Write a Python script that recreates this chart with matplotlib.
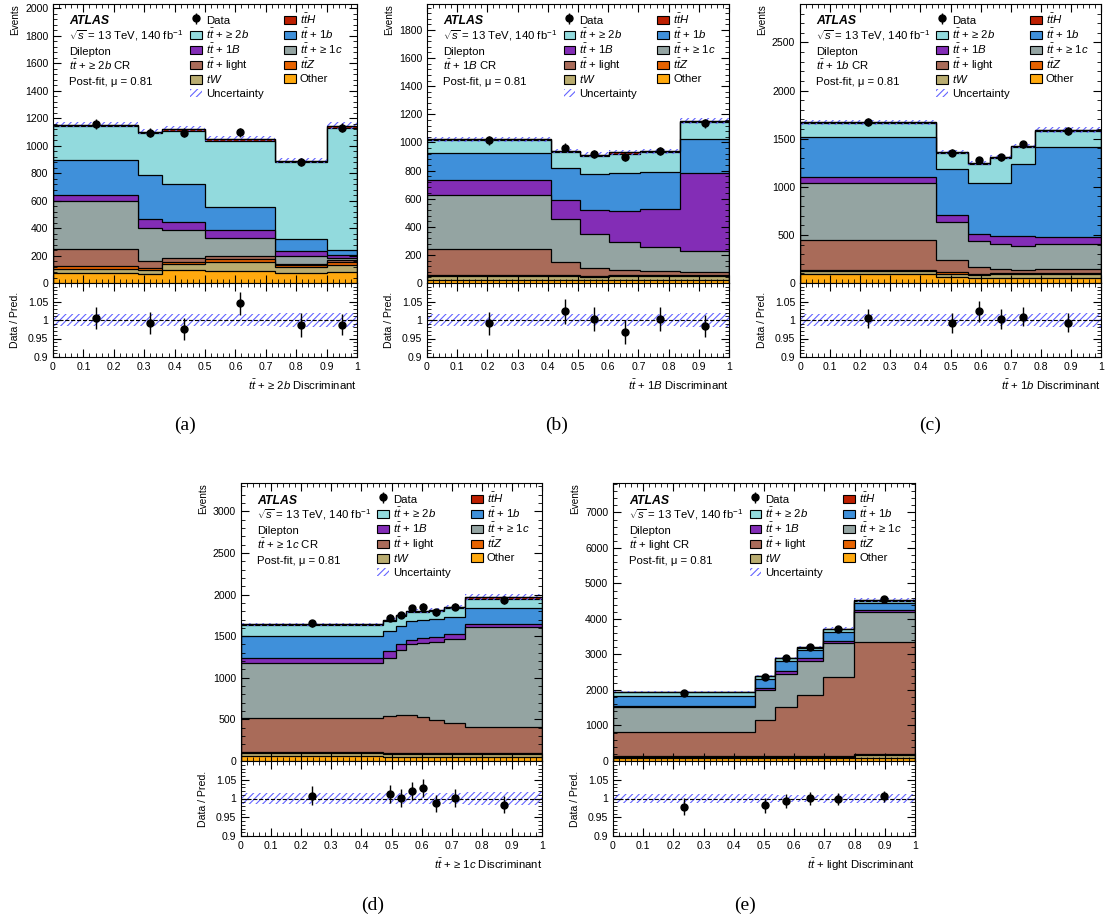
import numpy as np
import matplotlib
matplotlib.use('Agg')
import matplotlib.pyplot as plt
from matplotlib.ticker import MultipleLocator, AutoMinorLocator, FuncFormatter
from matplotlib.patches import Patch, Rectangle
from matplotlib.legend_handler import HandlerPatch

plt.rcParams['font.family'] = ['Liberation Sans', 'DejaVu Sans']
plt.rcParams['mathtext.fontset'] = 'custom'
plt.rcParams['mathtext.rm'] = 'Liberation Sans'
plt.rcParams['mathtext.it'] = 'Liberation Sans:italic'
plt.rcParams['mathtext.bf'] = 'Liberation Sans:bold'
plt.rcParams['hatch.linewidth'] = 0.8

# stack order, bottom -> top: other, tW, ttZ, light, >=1c, 1B, 1b, >=2b, ttH
# (a) tt + >=2b CR
a_edges = [0, 0.28, 0.36, 0.50, 0.73, 0.90, 1.0]
a_other = [73, 63, 92, 87, 73, 80]
a_tw = [31, 29, 44, 66, 43, 53]
a_ttz = [17, 17, 17, 21, 17, 17]
a_light = [128, 48, 31, 20, 7, 15]
a_c = [351, 243, 203, 135, 56, 17]
a_B = [42, 67, 58, 54, 36, 19]
a_b = [256, 322, 276, 169, 85, 36]
a_2b = [242, 301, 388, 484, 562, 893]
a_tth = [13, 12, 12, 15, 12, 15]
a_data = [1158, 1094, 1095, 1098, 879, 1131]
a_unc = [0.017, 0.017, 0.016, 0.015, 0.020, 0.020]

# (b) tt + 1B CR
b_edges = [0, 0.41, 0.505, 0.603, 0.706, 0.839, 1.0]
b_other = [24, 24, 24, 24, 24, 24]
b_tw = [23, 23, 19, 23, 23, 23]
b_ttz = [10, 10, 9, 10, 10, 10]
b_light = [188, 93, 57, 38, 28, 21]
b_c = [384, 308, 242, 197, 171, 150]
b_B = [107, 136, 167, 219, 274, 556]
b_b = [192, 221, 261, 273, 261, 244]
b_2b = [88, 118, 128, 137, 138, 119]
b_tth = [8, 7, 7, 8, 7, 7]
b_data = [1015, 962, 917, 898, 939, 1136]
b_unc = [0.017, 0.016, 0.016, 0.016, 0.017, 0.020]

# (c) tt + 1b CR
c_edges = [0, 0.451, 0.558, 0.632, 0.702, 0.782, 1.0]
c_other = [90, 62, 56, 56, 56, 56]
c_tw = [35, 35, 24, 34, 34, 34]
c_ttz = [14, 18, 17, 14, 14, 14]
c_light = [312, 128, 70, 45, 35, 45]
c_c = [584, 392, 270, 254, 246, 254]
c_B = [69, 77, 77, 90, 108, 76]
c_b = [410, 469, 521, 542, 743, 931]
c_2b = [146, 173, 201, 260, 181, 173]
c_tth = [10, 11, 11, 11, 10, 11]
c_data = [1677, 1353, 1276, 1309, 1440, 1583]
c_unc = [0.016, 0.016, 0.016, 0.016, 0.016, 0.020]

# (d) tt + >=1c CR
d_edges = [0, 0.473, 0.514, 0.548, 0.586, 0.623, 0.676, 0.745, 1.0]
d_other = [56, 48, 48, 48, 48, 48, 48, 48]
d_tw = [40, 32, 32, 32, 32, 32, 32, 32]
d_ttz = [12, 16, 16, 16, 16, 16, 16, 16]
d_light = [412, 440, 460, 460, 432, 392, 364, 312]
d_c = [656, 704, 772, 844, 888, 936, 1000, 1200]
d_B = [64, 76, 80, 56, 60, 64, 60, 40]
d_b = [260, 244, 208, 224, 216, 216, 208, 188]
d_2b = [128, 128, 124, 108, 100, 96, 112, 112]
d_tth = [12, 12, 12, 12, 12, 12, 12, 20]
d_data = [1653, 1720, 1754, 1836, 1856, 1788, 1854, 1935]
d_unc = [0.014, 0.014, 0.014, 0.014, 0.014, 0.014, 0.014, 0.017]

# (e) tt + light CR
e_edges = [0, 0.47, 0.536, 0.608, 0.694, 0.798, 1.0]
e_other = [75, 75, 75, 75, 75, 94]
e_tw = [38, 48, 48, 48, 48, 76]
e_ttz = [19, 19, 19, 19, 19, 19]
e_light = [698, 1009, 1367, 1726, 2235, 3151]
e_c = [679, 849, 944, 962, 953, 858]
e_B = [48, 57, 75, 57, 47, 47]
e_b = [283, 254, 283, 226, 265, 217]
e_2b = [94, 76, 76, 76, 66, 47]
e_tth = [20, 19, 19, 19, 18, 22]
e_data = [1911, 2363, 2889, 3211, 3719, 4556]
e_unc = [0.011, 0.011, 0.010, 0.010, 0.011, 0.011]

cols = ['#ffa90e', '#b9ac70', '#e76300', '#a96b59', '#94a4a2',
        '#832db6', '#3f90da', '#92dadd', '#bd1f01']
unc_col = '#6464ff'
tt = r'$t\bar{t}$'

W, H = 1105, 923
fig = plt.figure(figsize=(W / 100, H / 100), dpi=100)
fmt = FuncFormatter(lambda v, p: '%g' % v)
TXT = 8.2
TICK = 7.6


def small_box(legend, orig_handle, xdescent, ydescent, width, height, fontsize):
    # legend box a bit shorter than the row, like ROOT legends
    return Rectangle((-xdescent, -ydescent + 0.18 * height), width,
                     0.64 * height)


box_handler = HandlerPatch(patch_func=small_box)


def panel(left, top, width, mh, rh, edges, comps, data, unc, ymax, ystep,
          cr, xlab, tag, tagxy):
    ax = fig.add_axes([left / W, 1 - (top + mh) / H, width / W, mh / H])
    rx = fig.add_axes([left / W, 1 - (top + mh + rh) / H, width / W, rh / H])
    edges = np.array(edges)
    cum = np.cumsum(np.array(comps, float), axis=0)
    total = cum[-1]
    for i in reversed(range(len(comps))):
        ax.stairs(cum[i], edges, baseline=0, fill=True, facecolor=cols[i],
                  edgecolor='k', lw=0.9)
    unc = np.array(unc)
    lo = np.append(total * (1 - unc), total[-1] * (1 - unc[-1]))
    hi = np.append(total * (1 + unc), total[-1] * (1 + unc[-1]))
    ax.fill_between(edges, lo, hi, step='post', facecolor='none',
                    edgecolor=unc_col, hatch='/////', lw=0)
    ax.stairs(total, edges, color='k', lw=0.9)
    centers = 0.5 * (edges[1:] + edges[:-1])
    data = np.array(data, float)
    eb = ax.errorbar(centers, data, yerr=np.sqrt(data), fmt='o', color='k',
                     ms=5, elinewidth=1, capsize=0)
    ax.set_xlim(0, 1)
    ax.set_ylim(0, ymax)
    ax.yaxis.set_major_locator(MultipleLocator(ystep))
    ax.yaxis.set_minor_locator(AutoMinorLocator(5))
    ax.xaxis.set_major_locator(MultipleLocator(0.1))
    ax.xaxis.set_minor_locator(MultipleLocator(0.02))
    ax.tick_params(labelbottom=False)
    ax.set_ylabel('Events', loc='top', fontsize=7.2)

    # ratio
    ulo = np.append(1 - unc, 1 - unc[-1])
    uhi = np.append(1 + unc, 1 + unc[-1])
    rx.fill_between(edges, ulo, uhi, step='post', facecolor='none',
                    edgecolor=unc_col, hatch='/////', lw=0)
    rx.axhline(1, color='k', ls='--', lw=0.8)
    rx.errorbar(centers, data / total, yerr=np.sqrt(data) / total, fmt='o',
                color='k', ms=5, elinewidth=1, capsize=0)
    rx.set_xlim(0, 1)
    rx.set_ylim(0.9, 1.1)
    rx.set_yticks([0.9, 0.95, 1.0, 1.05])
    rx.yaxis.set_minor_locator(MultipleLocator(0.01))
    rx.xaxis.set_major_locator(MultipleLocator(0.1))
    rx.xaxis.set_minor_locator(MultipleLocator(0.02))
    rx.xaxis.set_major_formatter(fmt)
    rx.yaxis.set_major_formatter(fmt)
    rx.set_ylabel('Data / Pred.', fontsize=7.6)
    rx.set_xlabel(xlab, loc='right', fontsize=TXT)

    for a in (ax, rx):
        a.tick_params(which='both', direction='in', top=True, right=True,
                      labelsize=TICK)
        a.tick_params(which='major', length=6)
        a.tick_params(which='minor', length=3)
    ax.yaxis.set_label_coords(-0.108, 1)
    rx.yaxis.set_label_coords(-0.108, 0.5)

    # labels
    lines = [r'$\sqrt{s}$ = 13 TeV, 140 fb$^{-1}$', 'Dilepton', cr,
             'Post-fit, \u03bc = 0.81']
    dy = 15.2 / mh
    y0 = 1 - 20.5 / mh
    ax.text(0.053, y0, 'ATLAS', transform=ax.transAxes, fontsize=TXT + 0.6,
            weight='bold', style='italic', va='baseline')
    for k, s in enumerate(lines):
        ax.text(0.053, y0 - (k + 1) * dy, s, transform=ax.transAxes,
                fontsize=TXT, va='baseline')

    pat = [Patch(facecolor=c, edgecolor='k', lw=0.8) for c in cols]
    uh = Patch(facecolor='none', edgecolor=unc_col, hatch='/////', lw=0)
    handles = [eb, pat[7], pat[5], pat[3], pat[1], uh,
               pat[8], pat[6], pat[4], pat[2], pat[0]]
    labels = ['Data', tt + ' + \u2265 2$b$', tt + ' + 1$B$', tt + ' + light',
              '$tW$', 'Uncertainty', r'$t\bar{t}H$', tt + ' + 1$b$',
              tt + ' + \u2265 1$c$', r'$t\bar{t}Z$', 'Other']
    ax.legend(handles, labels, ncol=2, loc='upper left',
              bbox_to_anchor=(0.452, 1 - 7.5 / mh), frameon=False,
              fontsize=TXT, handlelength=1.05, handleheight=1.43,
              handletextpad=0.35, labelspacing=0.0, columnspacing=1.75,
              borderaxespad=0, borderpad=0,
              handler_map={Patch: box_handler})

    fig.text(tagxy[0] / W, 1 - tagxy[1] / H, tag, fontsize=14,
             family='Liberation Serif', ha='center', va='center')


def comps(o, t, z, l, c, B, b, b2, h):
    return [o, t, z, l, c, B, b, b2, h]


panel(53, 4, 304, 279, 74, a_edges,
      comps(a_other, a_tw, a_ttz, a_light, a_c, a_B, a_b, a_2b, a_tth),
      a_data, a_unc, 2030, 200, tt + ' + \u2265 2$b$ CR',
      tt + ' + \u2265 2$b$ Discriminant', '(a)', (185, 425))
panel(427, 4, 302, 279, 74, b_edges,
      comps(b_other, b_tw, b_ttz, b_light, b_c, b_B, b_b, b_2b, b_tth),
      b_data, b_unc, 1985, 200, tt + ' + 1$B$ CR',
      tt + ' + 1$B$ Discriminant', '(b)', (557, 425))
panel(800, 4, 301, 279, 74, c_edges,
      comps(c_other, c_tw, c_ttz, c_light, c_c, c_B, c_b, c_2b, c_tth),
      c_data, c_unc, 2900, 500, tt + ' + 1$b$ CR',
      tt + ' + 1$b$ Discriminant', '(c)', (930, 425))
panel(241, 483, 301, 278, 75, d_edges,
      comps(d_other, d_tw, d_ttz, d_light, d_c, d_B, d_b, d_2b, d_tth),
      d_data, d_unc, 3340, 500, tt + ' + \u2265 1$c$ CR',
      tt + ' + \u2265 1$c$ Discriminant', '(d)', (373, 905))
panel(613, 483, 302, 278, 75, e_edges,
      comps(e_other, e_tw, e_ttz, e_light, e_c, e_B, e_b, e_2b, e_tth),
      e_data, e_unc, 7830, 1000, tt + ' + light CR',
      tt + ' + light Discriminant', '(e)', (745, 905))

fig.savefig('out.png', dpi=100)
